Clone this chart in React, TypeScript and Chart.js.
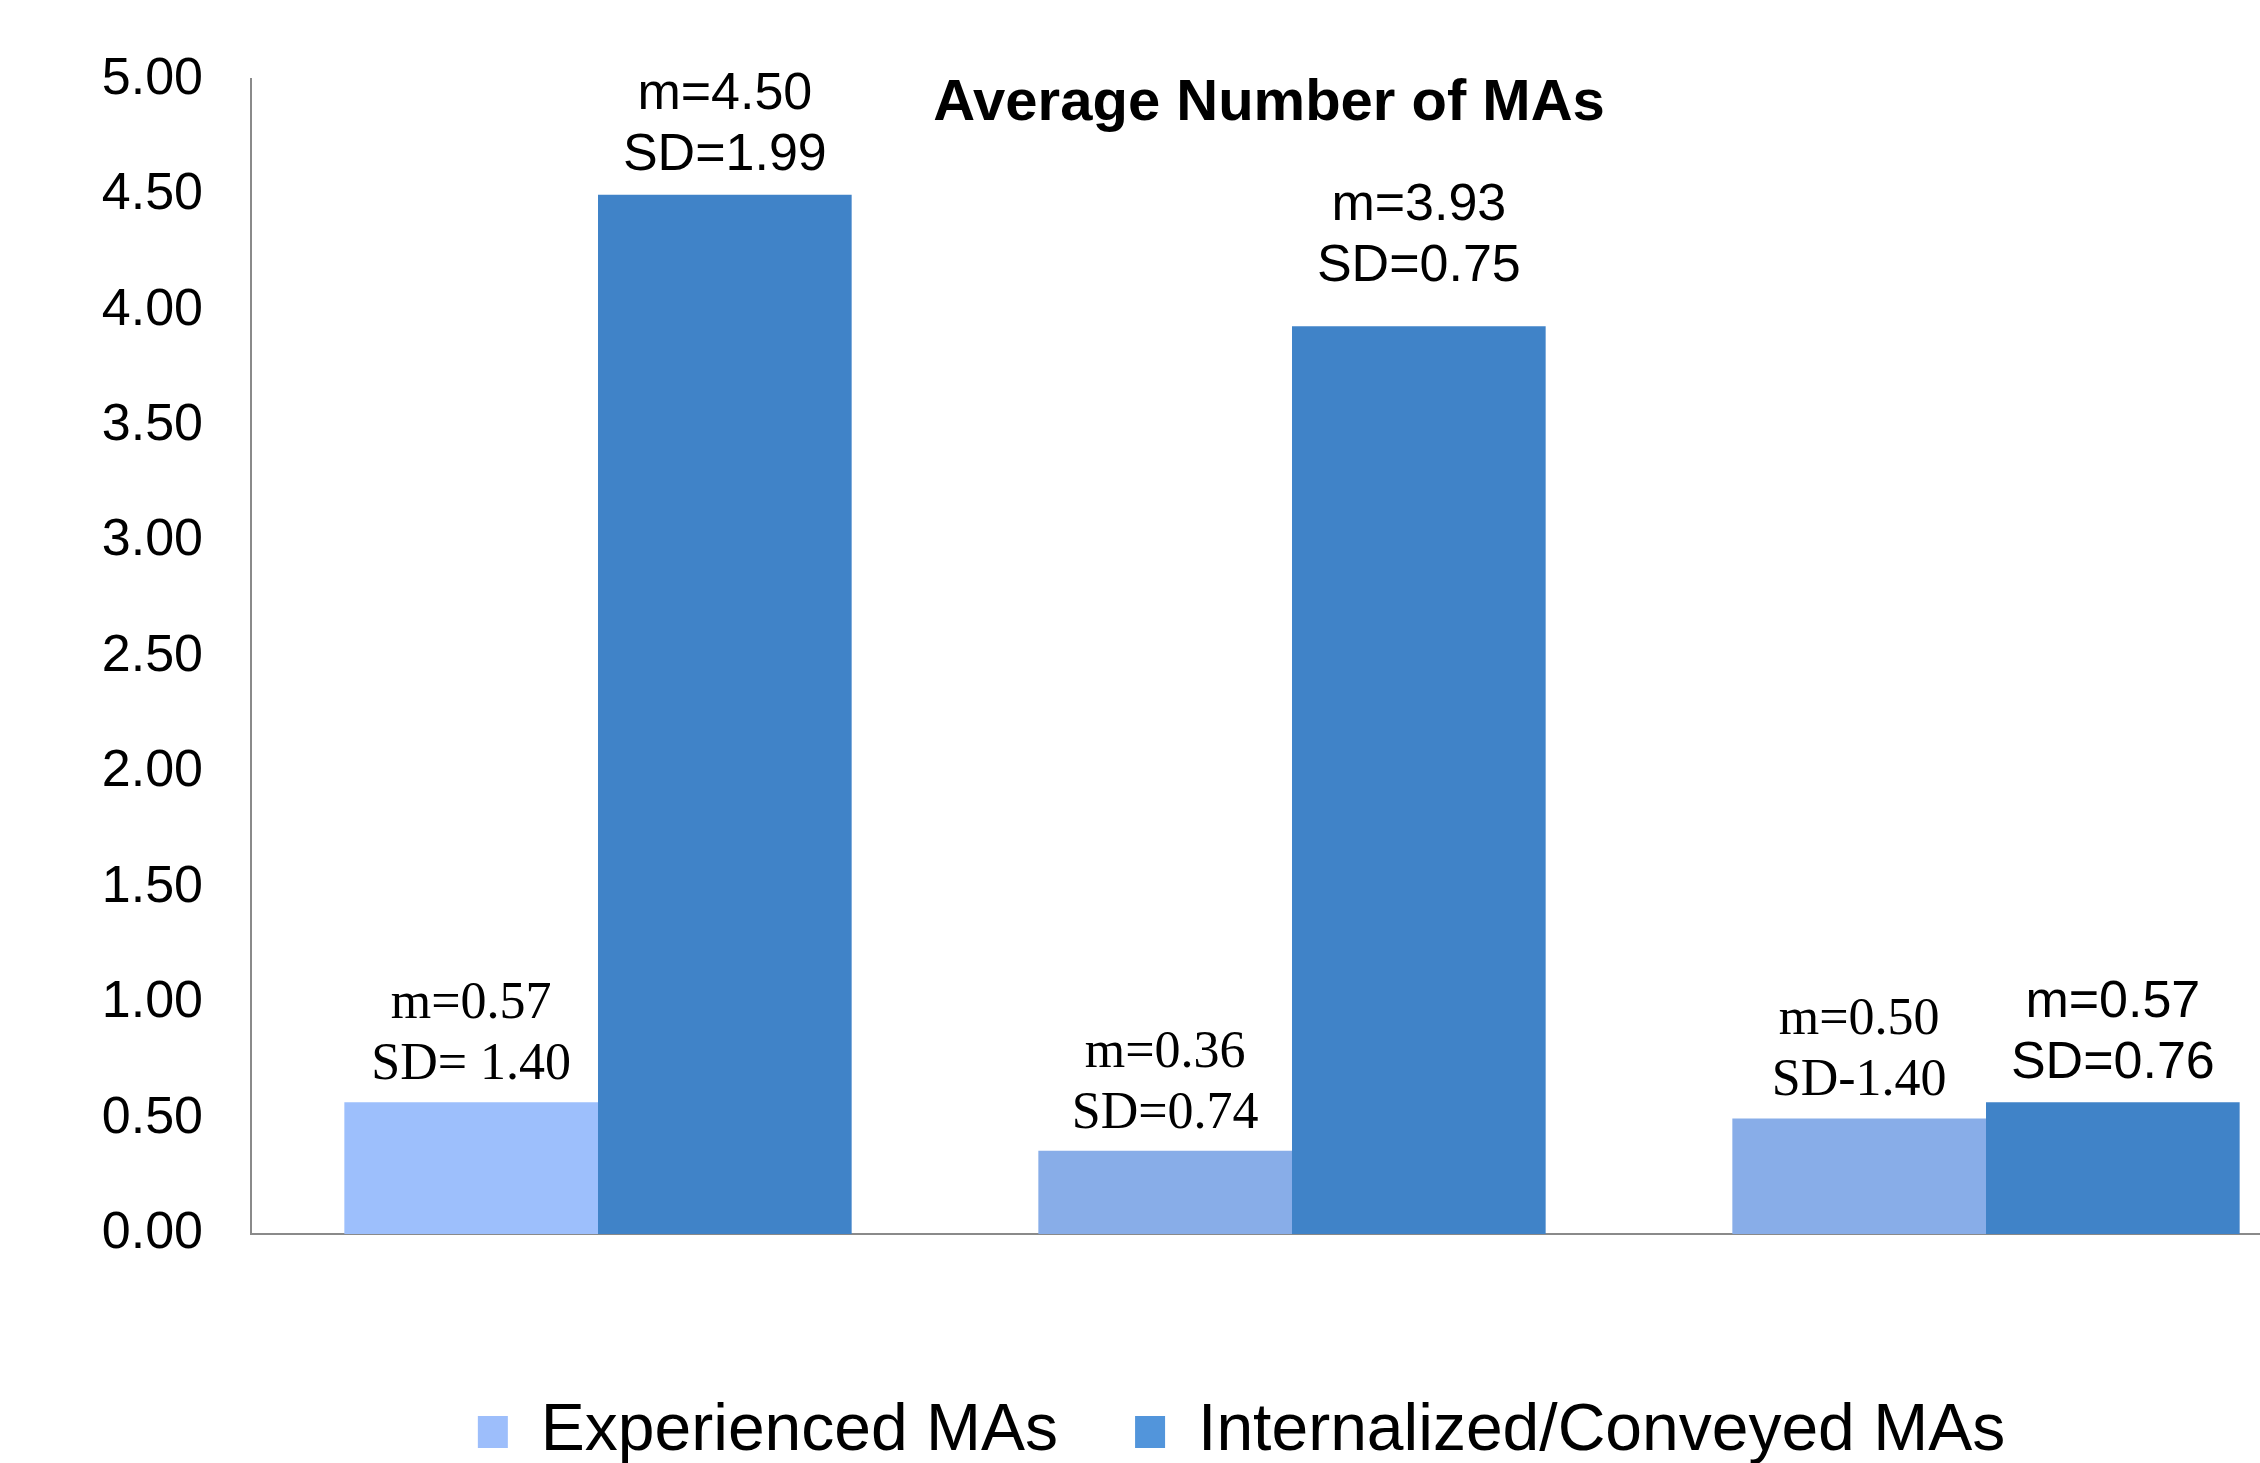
import React, { useEffect, useRef } from "react";
import { Chart, registerables } from "chart.js";

Chart.register(...registerables);

const categories = ["Group 1", "Group 2", "Group 3"];
const seriesNames = ["Experienced MAs", "Internalized/Conveyed MAs"];
const experienced = [0.57, 0.36, 0.5];
const internalized = [4.5, 3.93, 0.57];
const experiencedMeanLabels = ["m=0.57", "m=0.36", "m=0.50"];
const experiencedSdLabels = ["SD= 1.40", "SD=0.74", "SD-1.40"];
const internalizedMeanLabels = ["m=4.50", "m=3.93", "m=0.57"];
const internalizedSdLabels = ["SD=1.99", "SD=0.75", "SD=0.76"];
const yTicks = [0, 0.5, 1, 1.5, 2, 2.5, 3, 3.5, 4, 4.5, 5];
const titleText = "Average Number of MAs";

const SANS = "'Liberation Sans', Arial, sans-serif";
const SERIF = "'Liberation Serif', 'Times New Roman', serif";
const expColors = ["#9DBFFC", "#88ADE8", "#88ADE8"];
const intColor = "#4083C8";
const legendColors = ["#9DBEFB", "#5295DB"];

const labelPlugin = {
  id: "barLabels",
  afterDatasetsDraw(chart: any, _args: any, opts: any) {
    const ctx = chart.ctx;
    const sets = [
      { m: experiencedMeanLabels, sd: experiencedSdLabels, font: SERIF, gap: 37 },
      { m: internalizedMeanLabels, sd: internalizedSdLabels, font: SANS, gap: 39 },
    ];
    const lift = (opts && opts.lift) || [[0, 0, 0], [0, 0, 0]];
    ctx.save();
    ctx.fillStyle = "#000";
    ctx.textAlign = "center";
    ctx.textBaseline = "middle";
    sets.forEach((s, di) => {
      const meta = chart.getDatasetMeta(di);
      meta.data.forEach((el: any, i: number) => {
        const y0 = el.y - s.gap - (lift[di][i] || 0);
        ctx.font = `52px ${s.font}`;
        ctx.fillText(s.sd[i], el.x, y0);
        ctx.fillText(s.m[i], el.x, y0 - 61);
      });
    });
    ctx.restore();
  },
};

const titlePlugin = {
  id: "insideTitle",
  afterDraw(chart: any) {
    const { ctx, chartArea } = chart;
    ctx.save();
    ctx.fillStyle = "#000";
    ctx.font = `bold 58px ${SANS}`;
    ctx.textAlign = "center";
    ctx.textBaseline = "middle";
    ctx.fillText(titleText, chartArea.left + (chartArea.right - chartArea.left) * 0.489, chartArea.top + 25);
    ctx.restore();
  },
};

export default function App() {
  const ref = useRef<HTMLCanvasElement>(null);
  useEffect(() => {
    if (!ref.current) return;
    const chart = new Chart(ref.current, {
      type: "bar",
      data: {
        labels: categories,
        datasets: [
          { label: seriesNames[0], data: experienced, backgroundColor: expColors, borderWidth: 0, yAxisID: "y" },
          { label: seriesNames[1], data: internalized, backgroundColor: intColor, borderWidth: 0, yAxisID: "y" },
        ],
      },
      options: {
        animation: false,
        responsive: false,
        devicePixelRatio: 1,
        layout: { padding: { left: 0, top: 76, right: 0, bottom: 0 } },
        datasets: { bar: { categoryPercentage: 0.731, barPercentage: 1.0 } },
        scales: {
          x: {
            type: "category",
            grid: { display: false, drawTicks: false },
            border: { display: true, color: "#8A8A8A", width: 2 },
            ticks: { display: false },
            afterFit: (s: any) => { s.height = 88; },
          },
          y: {
            min: 0,
            max: 5,
            grid: { display: false, drawTicks: false },
            border: { display: true, color: "#8A8A8A", width: 2 },
            afterBuildTicks: (s: any) => { s.ticks = yTicks.map((v) => ({ value: v })); },
            afterFit: (s: any) => { s.width = 251; },
            ticks: {
              padding: 48,
              color: "#000",
              font: { family: SANS, size: 52 },
              callback: (v: any) => Number(v).toFixed(2),
            },
          },
          y2: {
            position: "right",
            display: true,
            grid: { display: false, drawTicks: false },
            border: { display: false },
            ticks: { display: false },
            afterFit: (s: any) => { s.width = 150; },
          },
        },
        plugins: {
          title: { display: false },
          tooltip: { enabled: false },
          barLabels: { lift: [[0, 0, 0], [0, 21, 0]] },
          legend: {
            position: "bottom",
            labels: {
              boxWidth: 30,
              boxHeight: 32,
              padding: 77,
              color: "#000",
              font: { family: SANS, size: 66 },
              generateLabels: (c: any) => {
                const items = Chart.defaults.plugins.legend.labels.generateLabels(c);
                return items.map((it: any, i: number) => ({
                  ...it,
                  fillStyle: legendColors[i],
                  strokeStyle: legendColors[i],
                  lineWidth: 0,
                }));
              },
            },
          },
        },
      },
      plugins: [labelPlugin, titlePlugin],
    } as any);
    return () => chart.destroy();
  }, []);
  return (
    <div style={{ position: "absolute", left: 0, top: 0, width: 2260, height: 1463, overflow: "hidden", background: "#fff" }}>
      <canvas ref={ref} width={2483} height={1475} style={{ width: 2483, height: 1475, display: "block" }} />
    </div>
  );
}
